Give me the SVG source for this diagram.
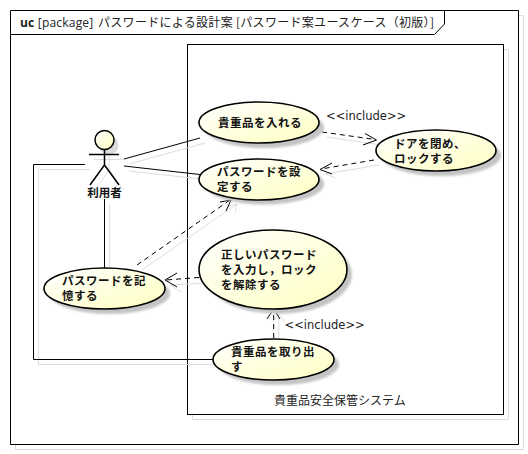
<svg xmlns="http://www.w3.org/2000/svg" width="528" height="454" viewBox="0 0 528 454">
<style>
text{font-family:"Noto Sans CJK JP","DejaVu Sans",sans-serif;font-size:12px;fill:#111}
.b{font-weight:700;font-size:11.500px;letter-spacing:.5px}
.t{font-family:"DejaVu Sans","Noto Sans CJK JP",sans-serif;font-size:11.500px;fill:#222}
.s{fill:none;stroke:#dedede;stroke-width:1}
.l{fill:none;stroke:#000;stroke-width:1}
.d{fill:none;stroke:#000;stroke-width:1;stroke-dasharray:5 4}
.a{fill:none;stroke:#000;stroke-width:1}
.e{fill:url(#g);stroke:#000;stroke-width:1.600}
.sh{fill:#c4c4c4;filter:url(#b)}
</style>
<defs>
<linearGradient id="g" x1="0" y1="0" x2="1" y2="1"><stop offset="0" stop-color="#ffffff"/><stop offset="1" stop-color="#ffffc0"/></linearGradient>
<filter id="b" x="-10%" y="-20%" width="120%" height="140%"><feGaussianBlur stdDeviation="1.200"/></filter>
</defs>
<rect width="528" height="454" fill="#fff"/>
<g id="frame">
<path class="s" d="M449 15.500H523.500V449.500H15.500V444"/>
<path fill="#fff" stroke="#000" stroke-width="1" d="M10.500 10.500H518.500V444.500H10.500Z"/>
<path fill="none" stroke="#000" stroke-width="1" d="M10.500 34.500H434.500L444.500 24V10.500"/>
<text x="20" y="27" style="font-family:'Open Sans',sans-serif;font-size:12px;letter-spacing:.2px;fill:#222"><tspan font-weight="700">uc</tspan> [package]</text>
<text x="98" y="27" style="fill:#222;font-size:12px;letter-spacing:.3px">パスワードによる設計案 [パスワード案ユースケース（初版）]</text>
</g>
<g id="system">
<path class="s" d="M192.500 419.500V49.500H508.500V419.500Z"/>
<rect x="187.500" y="44.500" width="316" height="370" fill="#fff" stroke="#000" stroke-width="1"/>
<text x="274" y="405" style="fill:#222">貴重品安全保管システム</text>
</g>
<g id="connectors">
<path class="s" d="M129 164L205 143M129 171L205 179.500M90 169.500H38.500V364.500H213M109.500 204V273M142 270L237 204M327 137L381 145M379 165L325 174M325 174L336 178M204 283L170 285M170 285L181 292M278.700 344V314M278.700 314L272 322M278.700 314L285 322M237 204L228 206M237 204L235 212"/>
<path class="l" d="M124 159L200 138"/>
<path class="l" d="M124 166L200 174.500"/>
<path class="l" d="M85 164.500H33.500V359.500H213"/>
<path class="l" d="M104.500 199V268"/>
<path class="d" d="M322 132L375 139.500"/>
<path class="a" d="M365 133.500L376.500 140L363 145"/>
<path class="d" d="M374 160L321 169"/>
<path class="a" d="M332 163L320 169.500L332 174"/>
<path class="d" d="M137 265L230 200"/>
<path class="a" d="M220 202L231 200L226 211"/>
<path class="d" d="M199 277.500L166 280"/>
<path class="a" d="M177 273L165 280L177 287"/>
<path class="d" d="M273.700 338V310"/>
<path class="a" d="M267 319L273.700 309L280 319"/>
</g>
<g id="actor">
<circle cx="109" cy="145" r="9.500" fill="#dcdcdc"/>
<path class="s" d="M94 159.500H124M109 155V170L95 190M109 170L124 190"/>
<circle cx="104.500" cy="140" r="9.500" fill="url(#g)" stroke="#000" stroke-width="1.500"/>
<path fill="none" stroke="#000" stroke-width="1.500" d="M89 154.500H119M104.500 149.500V165L90 185M104.500 165L119 185"/>
<text x="104.500" y="197" text-anchor="middle" class="b" style="letter-spacing:0">利用者</text>
</g>
<g id="uc1">
<ellipse class="sh" cx="264" cy="127.500" rx="60" ry="20.500"/>
<ellipse class="e" cx="259" cy="122.500" rx="60" ry="20.500"/>
<text x="218" y="127" class="b">貴重品を入れる</text>
</g>
<g id="uc2">
<ellipse class="sh" cx="264" cy="184" rx="60" ry="20.500"/>
<ellipse class="e" cx="259" cy="179.500" rx="60" ry="20.500"/>
<text x="217" y="176" class="b">パスワードを設</text>
<text x="217" y="191" class="b">定する</text>
</g>
<g id="uc3">
<text x="326" y="120" class="t">&lt;&lt;include&gt;&gt;</text>
<ellipse class="sh" cx="441" cy="155.500" rx="60" ry="20.500"/>
<ellipse class="e" cx="436" cy="150.500" rx="60" ry="20.500"/>
<text x="394" y="148" class="b">ドアを閉め、</text>
<text x="394" y="163" class="b">ロックする</text>
</g>
<g id="uc4">
<ellipse class="sh" cx="109.500" cy="293.500" rx="60.500" ry="20.500"/>
<ellipse class="e" cx="104.500" cy="288.500" rx="60.500" ry="20.500"/>
<text x="62" y="285" class="b">パスワードを記</text>
<text x="62" y="300" class="b">憶する</text>
</g>
<g id="uc5">
<ellipse class="sh" cx="278" cy="274.500" rx="74" ry="39.500"/>
<ellipse class="e" cx="273" cy="269.500" rx="74" ry="39.500"/>
<text x="221" y="258.500" class="b">正しいパスワード</text>
<text x="221" y="273.500" class="b">を入力し，ロック</text>
<text x="221" y="288.500" class="b">を解除する</text>
</g>
<g id="uc6">
<text x="284.500" y="329" class="t">&lt;&lt;include&gt;&gt;</text>
<ellipse class="sh" cx="278.500" cy="364.500" rx="60.500" ry="20.500"/>
<ellipse class="e" cx="273.500" cy="359.500" rx="60.500" ry="20.500"/>
<text x="231" y="356" class="b">貴重品を取り出</text>
<text x="231" y="371" class="b">す</text>
</g>
</svg>
